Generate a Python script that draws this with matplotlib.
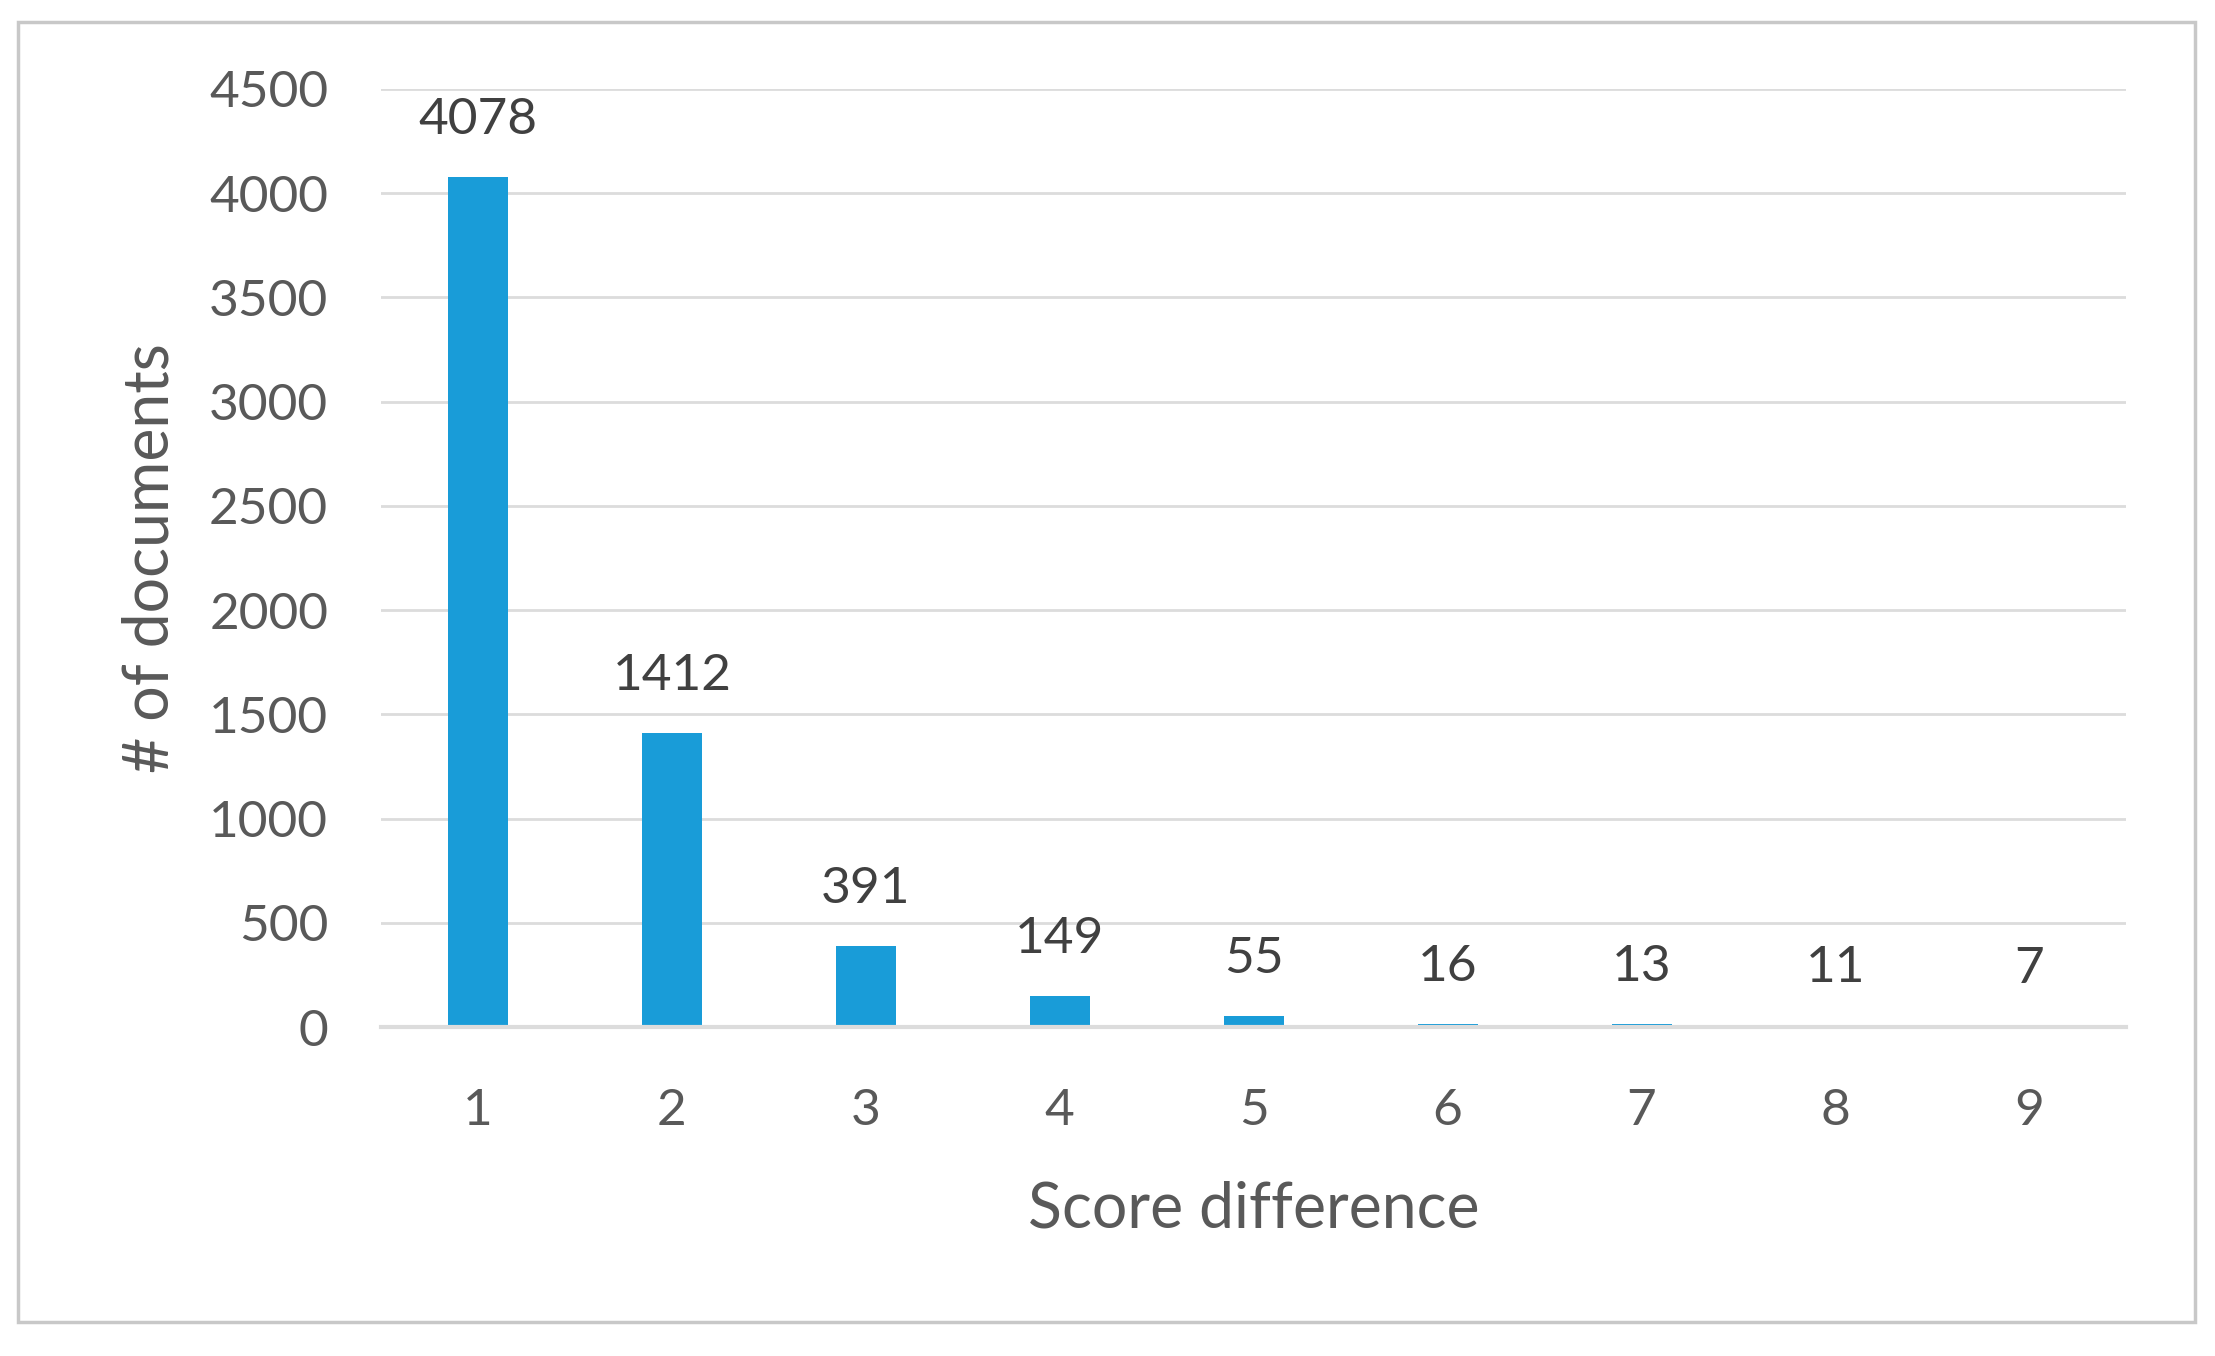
import matplotlib.pyplot as plt
from matplotlib.patches import Rectangle

plt.rcParams["font.family"] = ["Lato", "DejaVu Sans"]

score_diff = [1, 2, 3, 4, 5, 6, 7, 8, 9]
n_docs = [4078, 1412, 391, 149, 55, 16, 13, 11, 7]
yticks = [0, 500, 1000, 1500, 2000, 2500, 3000, 3500, 4000, 4500]

fig = plt.figure(figsize=(22.15, 13.56), dpi=100)
ax = fig.add_axes([0.172, 0.2426, 0.788, 0.6918])

ax.bar(score_diff, n_docs, width=0.31, color="#199CD8", zorder=3)
for x, v in zip(score_diff, n_docs):
    ax.annotate(str(v), xy=(x, v), xytext=(0, 41), textcoords="offset points",
                ha="center", va="center", fontsize=37, color="#404040")

ax.set_xlim(0.5, 9.5)
ax.set_ylim(0, 4500)
ax.set_xticks(score_diff)
ax.set_yticks(yticks)
ax.tick_params(axis="x", length=0, pad=44, labelsize=37, labelcolor="#595959")
ax.tick_params(axis="y", length=0, pad=38, labelsize=37, labelcolor="#595959")
ax.grid(axis="y", color="#dcdcdc", lw=2, zorder=0)
ax.set_axisbelow(True)
# baseline sits on top of the bars, hiding the tiny ones
ax.axhline(0, color="#dcdcdc", lw=3, zorder=4, clip_on=False)
for s in ax.spines.values():
    s.set_visible(False)

ax.set_xlabel("Score difference", fontsize=45, color="#595959")
ax.xaxis.label.set_va("center")
ax.xaxis.set_label_coords(0.5, -0.195)
ax.set_ylabel("# of documents", fontsize=45, color="#595959")
ax.yaxis.label.set_va("center")
ax.yaxis.set_label_coords(-0.132, 0.5)

# chart border
W, H = 2215, 1356
fig.patches.append(Rectangle((18 / W, 1 - 1322 / H), (2195 - 18) / W, (1322 - 22) / H,
                             transform=fig.transFigure, fill=False,
                             edgecolor="#c8c8c8", lw=2.5))

plt.savefig("out.png", dpi=100)
plt.close()
